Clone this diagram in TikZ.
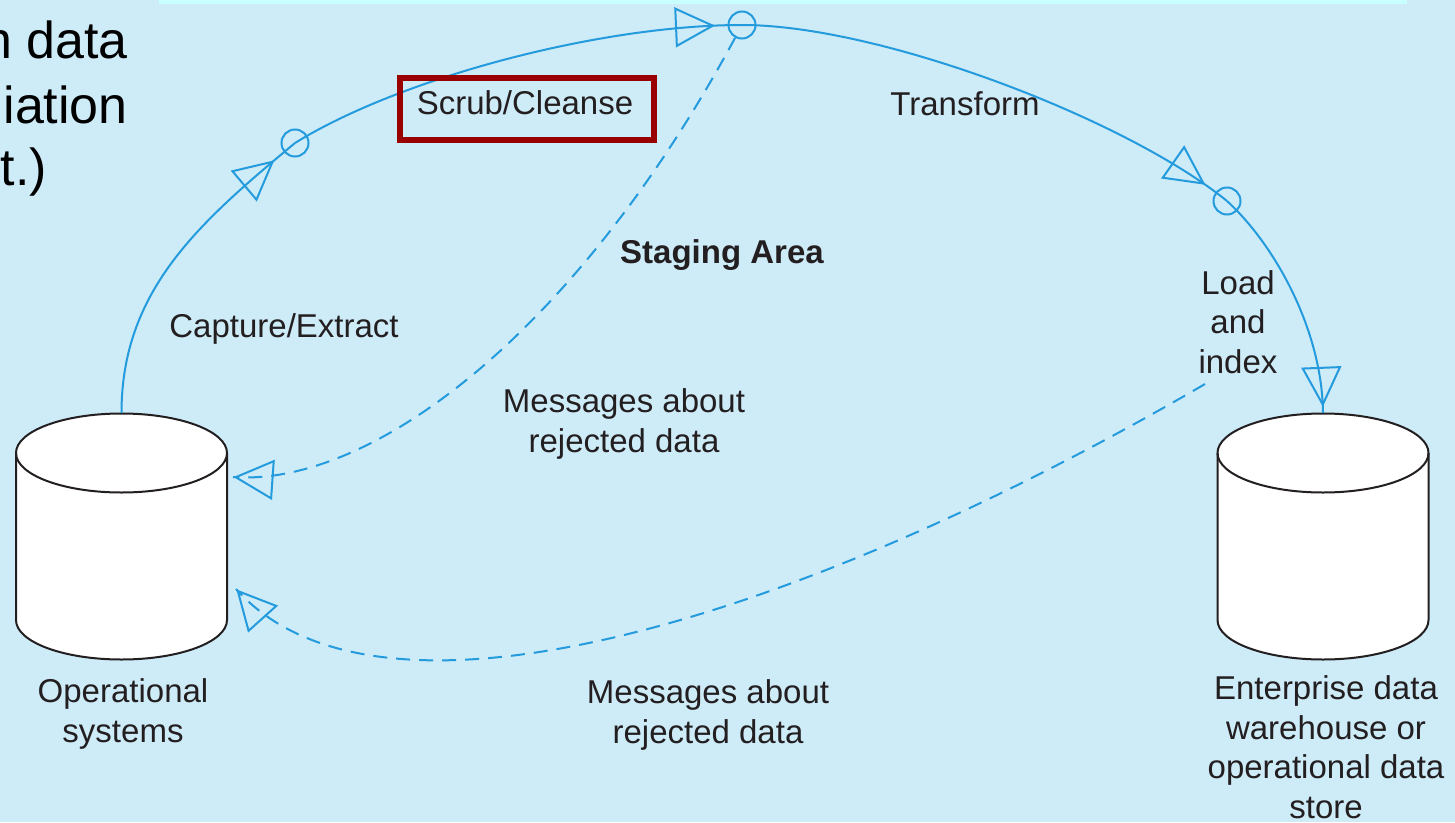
\documentclass[tikz,border=0pt]{standalone}
\usepackage{fontspec}
\setmainfont{Liberation Sans}
\usetikzlibrary{arrows.meta,decorations.markings}

\definecolor{bgblue}{RGB}{206,235,248}
\definecolor{stripcyan}{RGB}{200,255,255}
\definecolor{flowblue}{RGB}{35,155,220}
\definecolor{inkgray}{RGB}{35,31,32}
\definecolor{boxred}{RGB}{153,0,0}

\tikzset{
  dbcyl/.pic={
    \fill[white] (-105.5,-83.5) -- (-105.5,83.5)
      arc[start angle=180, end angle=360, x radius=105.5pt, y radius=39.5pt]
      -- (105.5,-83.5)
      arc[start angle=0, end angle=180, x radius=105.5pt, y radius=39.5pt] -- cycle;
    \draw[inkgray, line width=2pt] (-105.5,-83.5) -- (-105.5,83.5)
      arc[start angle=180, end angle=360, x radius=105.5pt, y radius=39.5pt]
      -- (105.5,-83.5);
    \draw[inkgray, line width=2pt] (0,-83.5) ellipse [x radius=105.5pt, y radius=39.5pt];
  }
}

\begin{document}
\begin{tikzpicture}[x=1pt, y=-1pt,
  lbl/.style={font=\fontsize{33}{39.5}\selectfont, text=inkgray, inner sep=0pt, align=center, anchor=base},
  slide/.style={font=\fontsize{52}{63}\selectfont, text=black, inner sep=0pt, anchor=base east},
  flow/.style={draw=flowblue, line width=2pt},
  reject/.style={flow, dash pattern=on 14pt off 9pt},
  stage/.style={circle, draw=flowblue, line width=2pt, minimum size=27pt, inner sep=0pt},
  dbslot/.style={minimum width=211pt, minimum height=247pt, inner sep=0pt},
  opentip/.style={postaction={decorate, decoration={markings,
      mark=at position #1 with {\arrow[flowblue, line width=2pt, solid]{Triangle[open, length=40pt, width=40pt]}}}}},
]
% canvas and clipping
\useasboundingbox (0,0) rectangle (1455,822);
\clip (0,0) rectangle (1455,822);
\fill[bgblue] (0,0) rectangle (1455,822);
\fill[stripcyan] (159,0) rectangle (1407,4);

% data stores
\pic at (121.5,536.5) {dbcyl};
\pic at (1323,536.5) {dbcyl};
\node[dbslot] (ops) at (121.5,536.5) {};
\node[dbslot] (dw) at (1323,536.5) {};

% stage markers on the flow
\node[stage] (c1) at (295,143) {};
\node[stage] (c2) at (742,25) {};
\node[stage] (c3) at (1227,201) {};

% main flow
\draw[flow, opentip=-27pt] (ops.north) .. controls (121.5,290) and (200,222) .. (c1.center);
\draw[flow, opentip=-27pt] (c1.center) .. controls (400,78) and (600,25) .. (c2.center);
\draw[flow, opentip=-27pt] (c2.center) .. controls (880,25) and (1126,119) .. (c3.center);
\draw[flow, opentip=-6pt] (c3.center) .. controls (1275,245) and (1322,330) .. (dw.north);

% rejected-data feedback
\coordinate (opsIn1) at (233,477);
\coordinate (opsIn2) at (236,589);
\coordinate (loadOut) at (1205,384);
\draw[reject, opentip=-0.5pt] (c2) .. controls (575,335) and (370,487) .. (opsIn1);
\draw[reject, opentip=-0.5pt] (loadOut) .. controls (800,620) and (380,750) .. (opsIn2);

% labels (multi-line labels sit on the baseline of their last line)
\node[draw=boxred, line width=6pt, minimum width=254pt, minimum height=62pt, inner sep=0pt] (scrubBox) at (527,109) {};
\node[lbl] (scrub) at (525,114) {Scrub/Cleanse};
\node[lbl] (transform) at (965,115) {Transform};
\node[lbl, font=\bfseries\fontsize{33}{39.5}\selectfont] (staging) at (722,263) {Staging Area};
\node[lbl] (capture) at (284,337) {Capture/Extract};
\node[lbl] (load) at (1238,373) {Load\\and\\index};
\node[lbl] (msg1) at (624,452) {Messages about\\rejected data};
\node[lbl] (msg2) at (708,743) {Messages about\\rejected data};
\node[lbl] (opsName) at (123,742) {Operational\\systems};
\node[lbl] (dwName) at (1326,818) {Enterprise data\\warehouse or\\operational data\\store};

% slide text running in from the left
\node[slide] (side1) at (128,58) {n data};
\node[slide] (side2) at (128,123) {iation};
\node[slide] (side3) at (47,185) {t.)};
\end{tikzpicture}
\end{document}
